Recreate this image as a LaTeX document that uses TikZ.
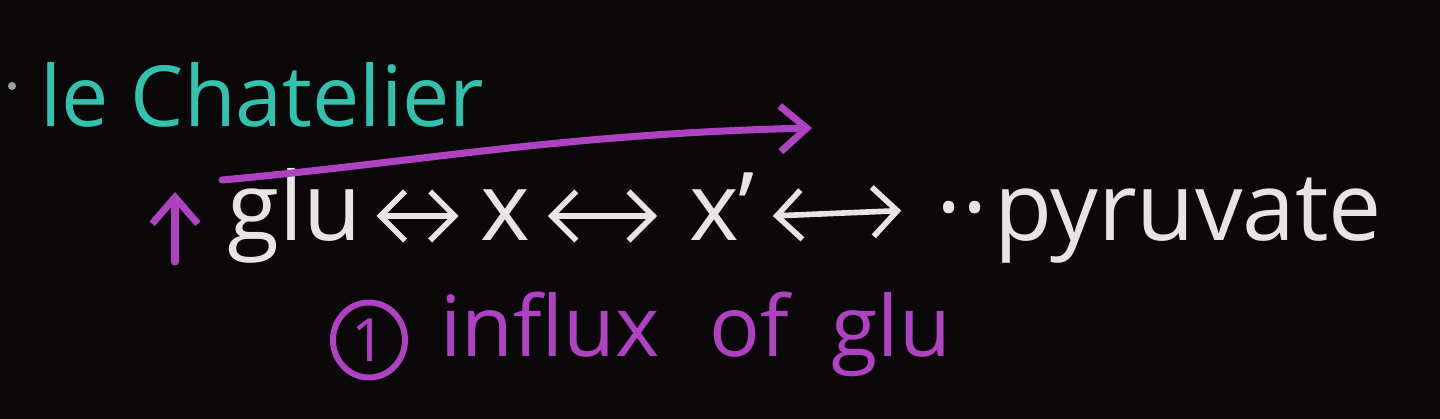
\documentclass[tikz,border=0pt]{standalone}
\usepackage{fontspec}
\setmainfont{Open Sans}
\usetikzlibrary{arrows.meta,shapes.geometric}
\definecolor{board}{HTML}{0B0809}
\definecolor{chalkwhite}{HTML}{E6E4E6}
\definecolor{chalkteal}{HTML}{33C2AE}
\definecolor{chalkpurple}{HTML}{AE42C2}
\definecolor{chalkgrey}{HTML}{A0A0A0}
\begin{document}
\begin{tikzpicture}[x=0.02cm,y=-0.02cm,
	txt/.style={inner sep=0pt,anchor=base,font=\fontsize{54}{60}\selectfont},
	eqarrow/.style={chalkwhite,line width=3.2pt,line cap=round,line join=round,
		{Straight Barb[length=14pt,width=28pt]}-{Straight Barb[length=14pt,width=28pt]}},
	pen/.style={chalkpurple,line width=4pt,line cap=round,line join=round,-{Straight Barb[length=15pt,width=26pt]}}]
	\fill [board] (0,0) rectangle (1440,419);
	\useasboundingbox (0,0) rectangle (1440,419);
	% heading
	\fill [chalkgrey] (12,86) circle [radius=2.3pt];
	\node [txt,anchor=base west,text=chalkteal,font=\fontsize{48}{60}\selectfont] (chat) at (40,126) {le Chatelier};
	% pathway
	\node [txt,text=chalkwhite] (glu) at (295,240) {glu};
	\node [txt,text=chalkwhite] (xone) at (505,240) {x};
	\node [txt,text=chalkwhite] (xtwo) at (722,240) {x'};
	\node [txt,text=chalkwhite] (etc) at (962,212) {..};
	\node [txt,text=chalkwhite] (pyr) at (1188,240) {pyruvate};
	\draw [eqarrow] ([xshift=8pt,yshift=11pt]glu.mid east) -- ([xshift=-12pt,yshift=11pt]xone.mid west);
	\draw [eqarrow] ([xshift=10pt,yshift=11pt]xone.mid east) -- ([xshift=-18pt,yshift=11pt]xtwo.mid west);
	\draw [eqarrow] ([xshift=10pt,yshift=11pt]xtwo.mid east) -- ([xshift=-20pt,yshift=-2pt]etc.west);
	% shift
	\coordinate (flowtail) at (222,180);
	\coordinate (flowhead) at (812,128);
	\draw [pen] (flowtail) .. controls (420,162) and (560,134) .. (flowhead);
	\coordinate (upfoot) at (175,262);
	\coordinate (uptip) at (175,192);
	\draw [pen] (upfoot) -- (uptip);
	% cause
	\node [ellipse,draw=chalkpurple,line width=3.4pt,inner sep=0pt,minimum width=1.44cm,minimum height=1.5cm,
		text=chalkpurple,font=\fontsize{34}{40}\selectfont] (one) at (369,340) {1};
	\node [txt,anchor=base west,text=chalkpurple,font=\fontsize{48}{60}\selectfont] (influx) at (440,356)
		{influx\hspace{0.6em}of\hspace{0.5em}glu};
\end{tikzpicture}
\end{document}
